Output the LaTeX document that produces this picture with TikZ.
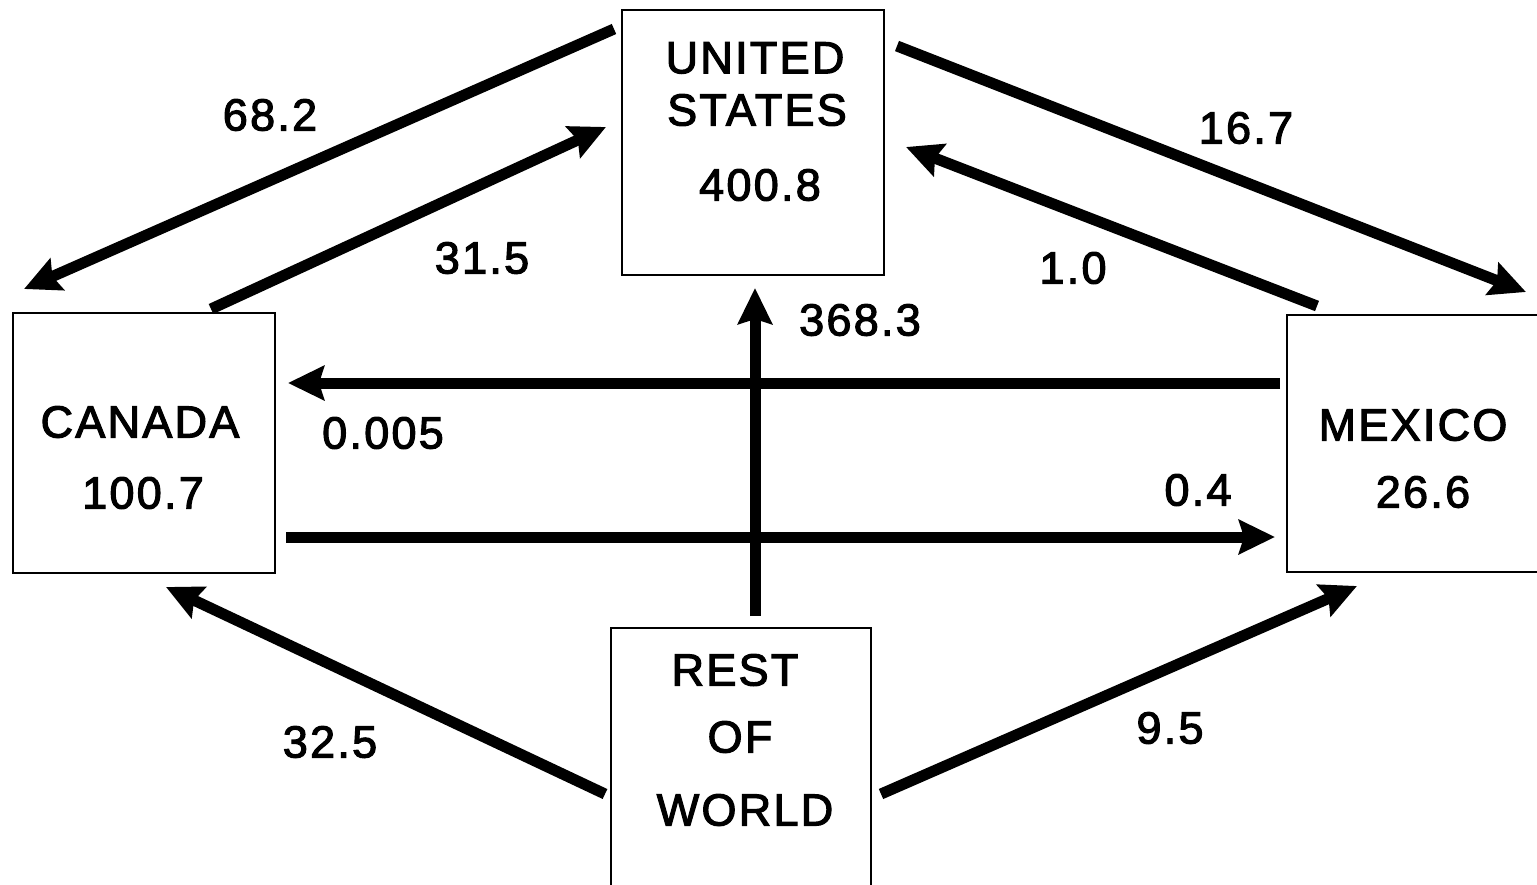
\documentclass[tikz,border=0pt]{standalone}
\usepackage{fontspec}
\setmainfont{Liberation Sans}
\newfontfamily\labelfont[LetterSpace=5,FakeBold=2.5]{Liberation Sans}
\usetikzlibrary{arrows.meta,calc}

\tikzset{
  region/.style={draw, line width=2pt, minimum width=#1, inner sep=0pt},
  flow/.style={line width=11pt, -{Stealth[length=36pt,width=34pt,inset=5pt]}},
  txt/.style={font=\labelfont\fontsize{45}{52}\selectfont, inner sep=0pt},
}

\begin{document}
\begin{tikzpicture}[x=1pt,y=-1pt]
  \useasboundingbox (0,0) rectangle (1537,884);

  % Country boxes
  \node[region=262pt, minimum height=265pt] (us)  at (753,142.5) {};
  \node[region=262pt, minimum height=260pt] (ca)  at (144,443)   {};
  \node[region=270pt, minimum height=257pt] (mx)  at (1422,443.5) {};
  \node[region=260pt, minimum height=270pt] (row) at (741,763)   {};

  % Box texts
  \node[txt] (usA) at (755,58)  {UNITED};
  \node[txt] (usB) at (757,110) {STATES};
  \node[txt] (usC) at (760,185) {400.8};
  \node[txt] (caA) at (140,422) {CANADA};
  \node[txt] (caB) at (143,493) {100.7};
  \node[txt] (mxA) at (1413,425) {MEXICO};
  \node[txt] (mxB) at (1423,492) {26.6};
  \node[txt] (rwA) at (735,670) {REST};
  \node[txt] (rwB) at (740,737) {OF};
  \node[txt] (rwC) at (745,810) {WORLD};

  % Trade flows
  \draw[flow] ($(us.north west)+(-7,20)$)   -- ($(ca.north west)+(12,-23)$);
  \draw[flow] ($(ca.north west)+(199,-3)$)  -- ($(us.north west)+(-15,118)$);
  \draw[flow] ($(us.north east)+(12,37)$)   -- ($(mx.north west)+(240,-22)$);
  \draw[flow] ($(mx.north west)+(31,-8)$)   -- ($(us.north east)+(21,138)$);
  \draw[flow] ($(row.north)+(14,-11)$)      -- ($(us.south)+(2,12)$);
  \draw[flow] ($(mx.north west)+(-6,69)$)   -- ($(ca.north east)+(12,71)$);
  \draw[flow] ($(ca.north east)+(10,225)$)  -- ($(mx.north west)+(-11,223)$);
  \draw[flow] ($(row.north west)+(-5,167)$) -- ($(ca.south west)+(154,13)$);
  \draw[flow] ($(row.north east)+(9,167)$)  -- ($(mx.south west)+(71,13)$);

  % Flow values
  \node[txt] (v1) at (270,115)  {68.2};
  \node[txt] (v2) at (482,258)  {31.5};
  \node[txt] (v3) at (1246,128) {16.7};
  \node[txt] (v4) at (1073,268) {1.0};
  \node[txt] (v5) at (860,320)  {368.3};
  \node[txt] (v6) at (383,433)  {0.005};
  \node[txt] (v7) at (1198,490) {0.4};
  \node[txt] (v8) at (330,742)  {32.5};
  \node[txt] (v9) at (1170,728) {9.5};
\end{tikzpicture}
\end{document}
